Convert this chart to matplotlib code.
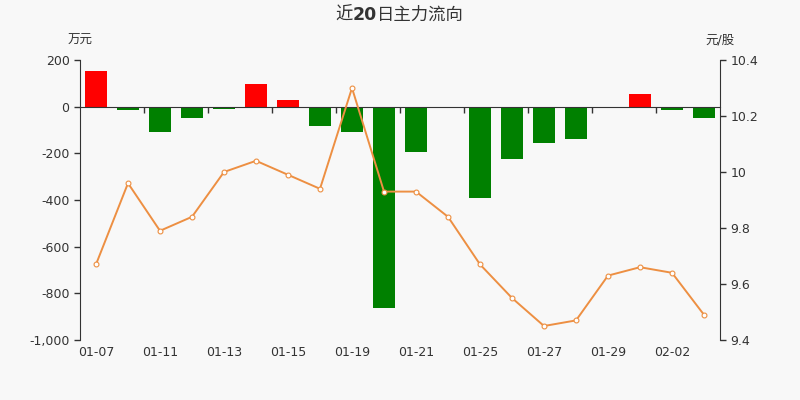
import numpy as np
import matplotlib
matplotlib.use("Agg")
import matplotlib.pyplot as plt
from matplotlib.ticker import FuncFormatter

plt.rcParams["font.family"] = ["DejaVu Sans", "Noto Sans CJK SC"]

dates = ["01-07", "01-08", "01-11", "01-12", "01-13", "01-14", "01-15", "01-18",
         "01-19", "01-20", "01-21", "01-22", "01-25", "01-26", "01-27", "01-28",
         "01-29", "02-01", "02-02", "02-03"]
flow = [153, -13, -107, -48, -10, 96, 27, -83, -110, -861,
        -193, -5, -392, -224, -154, -138, 0, 53, -13, -48]
price = [9.67, 9.96, 9.79, 9.84, 10.00, 10.04, 9.99, 9.94, 10.30, 9.93,
         9.93, 9.84, 9.67, 9.55, 9.45, 9.47, 9.63, 9.66, 9.64, 9.49]

bg = "#f8f8f8"
text_color = "#333333"
x = np.arange(len(dates))

fig = plt.figure(figsize=(8, 4), dpi=100, facecolor=bg)
ax = fig.add_axes([0.1, 0.15, 0.8, 0.7], facecolor=bg)

colors = ["#ff0000" if v > 0 else "#008000" for v in flow]
ax.bar(x, flow, width=0.68, color=colors, zorder=2)
ax.set_xlim(-0.5, len(dates) - 0.5)
ax.set_ylim(-1000, 200)
ax.set_yticks(np.arange(-1000, 201, 200))
ax.yaxis.set_major_formatter(FuncFormatter(lambda v, p: f"{int(v):,}"))

for side in ["top", "bottom", "right"]:
    ax.spines[side].set_visible(False)
ax.spines["left"].set_color(text_color)
ax.tick_params(axis="y", colors=text_color, labelsize=9, length=4, width=1)
ax.set_xticks(x[::2])
ax.set_xticklabels(dates[::2])
ax.tick_params(axis="x", colors=text_color, labelsize=9, length=0, pad=4)

# category axis line at zero, ticks between every second pair of bars
zero_axis = ax.secondary_xaxis(0, transform=ax.transData)
zero_axis.set_alignment("bottom")
zero_axis.set_zorder(3)
zero_axis.spines["bottom"].set_color(text_color)
zero_axis.set_xticks(x[1:-1:2] + 0.5)
zero_axis.set_xticklabels([])
zero_axis.tick_params(axis="x", colors=text_color, length=4, width=1, direction="out")

ax2 = ax.twinx()
ax2.plot(x, price, color="#ed8f42", linewidth=1.4, marker="o", markersize=3.5,
         markerfacecolor="white", markeredgecolor="#ed8f42", markeredgewidth=0.8, zorder=3)
ax2.set_ylim(9.4, 10.4)
ax2.set_yticks(np.arange(9.4, 10.41, 0.2))
ax2.yaxis.set_major_formatter(FuncFormatter(lambda v, p: f"{round(v, 1):g}"))
for side in ["top", "bottom", "left"]:
    ax2.spines[side].set_visible(False)
ax2.spines["right"].set_color(text_color)
ax2.tick_params(axis="y", colors=text_color, labelsize=9, length=4, width=1)

# title in three pieces so that "20" can be bold
title_kw = dict(fontsize=12.5, color=text_color, va="baseline")
t1 = fig.text(0.42, 0.95, "近", ha="left", **title_kw)
t2 = fig.text(0, 0, "20", fontweight="bold", **title_kw)
t3 = fig.text(0, 0, "日主力流向", **title_kw)
fig.canvas.draw()
renderer = fig.canvas.get_renderer()
inv = fig.transFigure.inverted()
w1 = inv.transform(t1.get_window_extent(renderer))[:, 0]
w2 = inv.transform(t2.get_window_extent(renderer))[:, 0]
w3 = inv.transform(t3.get_window_extent(renderer))[:, 0]
widths = [w1[1] - w1[0], w2[1] - w2[0], w3[1] - w3[0]]
start = 0.5 - sum(widths) / 2
t1.set_x(start)
t2.set_x(start + widths[0])
t2.set_y(0.95)
t3.set_x(start + widths[0] + widths[1])
t3.set_y(0.95)

fig.text(0.1, 0.9, "万元", ha="center", va="center", fontsize=9, color=text_color)
fig.text(0.9, 0.9, "元/股", ha="center", va="center", fontsize=9, color=text_color)

fig.savefig("out.png", dpi=100, facecolor=bg)
